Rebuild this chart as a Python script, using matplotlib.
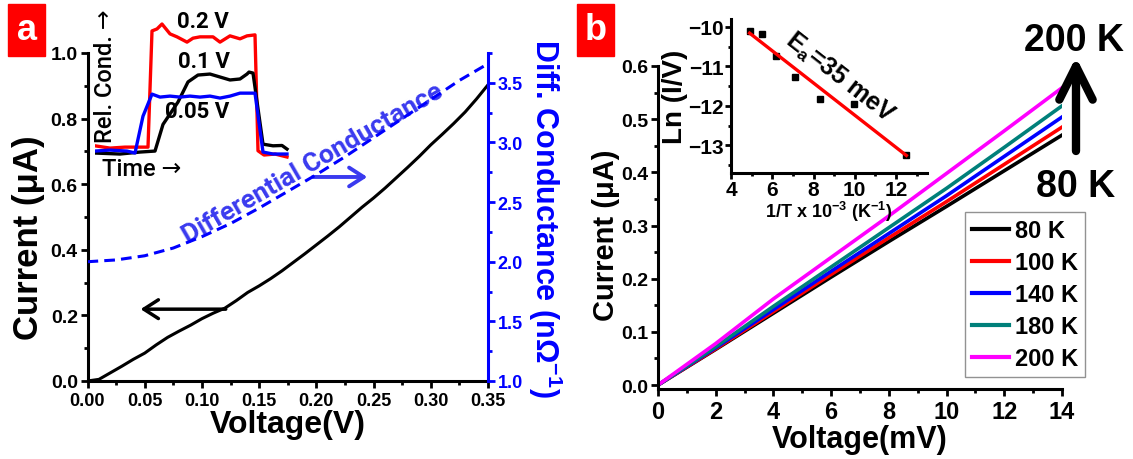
import numpy as np
import matplotlib
matplotlib.use("Agg")
import matplotlib.pyplot as plt
from matplotlib.patches import Rectangle, FancyArrowPatch
from matplotlib.ticker import MultipleLocator, FormatStrFormatter

plt.rcParams.update({
    "font.family": ["Liberation Sans", "DejaVu Sans"],
    "font.weight": "bold",
    "axes.labelweight": "bold",
    "mathtext.fontset": "custom",
    "mathtext.rm": "Liberation Sans:bold",
    "mathtext.it": "Liberation Sans:bold",
    "mathtext.bf": "Liberation Sans:bold",
    "mathtext.default": "rm",
    "axes.linewidth": 2.2,
})

# ---- panel a : I-V and differential conductance ----
volt_a = [0.00, 0.01, 0.02, 0.03, 0.04, 0.05, 0.06, 0.07, 0.08, 0.09, 0.10, 0.11,
          0.12, 0.13, 0.14, 0.15, 0.16, 0.17, 0.18, 0.19, 0.20, 0.21, 0.22, 0.23,
          0.24, 0.25, 0.26, 0.27, 0.28, 0.29, 0.30, 0.31, 0.32, 0.33, 0.34, 0.35]
current_a = [0.000, 0.005, 0.025, 0.045, 0.066, 0.085, 0.110, 0.133, 0.152, 0.170,
             0.190, 0.207, 0.222, 0.245, 0.270, 0.290, 0.312, 0.336, 0.362, 0.388,
             0.415, 0.442, 0.470, 0.500, 0.530, 0.558, 0.588, 0.620, 0.652, 0.685,
             0.720, 0.752, 0.785, 0.820, 0.860, 0.903]

volt_g = [0.0, 0.025, 0.05, 0.075, 0.10, 0.125, 0.15, 0.175, 0.20, 0.225, 0.25,
          0.275, 0.30, 0.325, 0.35]
diff_g = [2.00, 2.015, 2.05, 2.115, 2.21, 2.32, 2.45, 2.59, 2.73, 2.88, 3.04,
          3.20, 3.36, 3.52, 3.66]

# inset: relative conductance vs time (arbitrary units)
t_red = [0, 3, 6, 9.6, 10.6, 11.4, 12.4, 13.4, 15.0, 16.4, 18.4, 19.6, 21.0, 23.6,
         25.0, 27.0, 29.0, 30.4, 32.0, 32.6, 33.8, 36.0, 38.4]
rc_red = [0.715, 0.708, 0.711, 0.711, 0.711, 1.064, 1.070, 1.085, 1.055, 1.046,
          1.030, 1.042, 1.046, 1.046, 1.030, 1.049, 1.040, 1.049, 1.052, 0.700,
          0.687, 0.690, 0.681]
t_blk = [0, 5, 9, 12, 13.6, 16.6, 18.6, 20.6, 23.0, 25.0, 27.0, 29.0, 30.4,
         30.8, 31.6, 33.6, 35.6, 37.4, 38.4]
rc_blk = [0.693, 0.690, 0.696, 0.699, 0.780, 0.848, 0.909, 0.930, 0.933, 0.924,
          0.915, 0.918, 0.933, 0.939, 0.936, 0.720, 0.715, 0.716, 0.705]
t_blu = [0, 3, 6.4, 8.0, 9.6, 11.4, 13.0, 15.0, 17.0, 19.0, 21.0, 23.0, 25.0,
         27.0, 29.0, 32.0, 33.6, 35.6, 38.4]
rc_blu = [0.699, 0.702, 0.699, 0.693, 0.805, 0.872, 0.863, 0.866, 0.863, 0.866,
          0.863, 0.866, 0.860, 0.866, 0.875, 0.875, 0.696, 0.690, 0.690]

# ---- panel b : I-V at several temperatures ----
volt_b = [0, 2, 4, 6, 8, 10, 12, 14]
temps = ["80 K", "100 K", "140 K", "180 K", "200 K"]
temp_colors = ["black", "red", "blue", "#00807a", "magenta"]
current_b = {
    "80 K":  [0, 0.067, 0.135, 0.203, 0.270, 0.336, 0.403, 0.470],
    "100 K": [0, 0.068, 0.138, 0.208, 0.277, 0.345, 0.415, 0.485],
    "140 K": [0, 0.070, 0.142, 0.214, 0.285, 0.356, 0.430, 0.504],
    "180 K": [0, 0.072, 0.148, 0.222, 0.296, 0.370, 0.447, 0.525],
    "200 K": [0, 0.078, 0.162, 0.240, 0.318, 0.398, 0.478, 0.559],
}

# inset: Arrhenius plot
inv_t = [4.94, 5.5, 6.2, 7.08, 8.3, 9.96, 12.48]
ln_iv = [-10.10, -10.19, -10.74, -11.27, -11.83, -11.94, -13.25]

W, H = 1133, 460
fig = plt.figure(figsize=(W / 100, H / 100), dpi=100)


def fx(x):
    return x / W


def fy(y):
    return 1 - y / H


BLUE = "#0000ff"
LBLUE = "#3a3aef"
roboto = ["Roboto", "DejaVu Sans"]

# panel a
ax = fig.add_axes([fx(87.5), fy(382), (488 - 87.5) / W, (382 - 54) / H])
ax.plot(volt_a, current_a, color="k", lw=2.2)
ax.set_xlim(0, 0.35)
ax.set_ylim(0, 1.0)
ax.spines["top"].set_visible(False)
ax.spines["right"].set_visible(False)
ax.xaxis.set_major_locator(MultipleLocator(0.05))
ax.xaxis.set_minor_locator(MultipleLocator(0.025))
ax.xaxis.set_major_formatter(FormatStrFormatter("%.2f"))
ax.yaxis.set_major_locator(MultipleLocator(0.2))
ax.yaxis.set_minor_locator(MultipleLocator(0.1))
ax.yaxis.set_major_formatter(FormatStrFormatter("%.1f"))
ax.tick_params(which="major", direction="out", length=5, width=2)
ax.tick_params(which="minor", direction="out", length=3, width=2)
ax.tick_params(axis="x", labelsize=13, pad=3)
ax.tick_params(axis="y", labelsize=14, pad=2)
ax.set_xlabel("Voltage(V)", fontsize=23, labelpad=0)
ax.set_ylabel("Current (μA)", fontsize=25)
ax.yaxis.set_label_coords(-0.106, 0.44)

ax2 = ax.twinx()
ax2.plot(volt_g, diff_g, color=BLUE, lw=2.2, ls=(0, (3.5, 2)))
ax2.set_ylim(1.0, 3.75)
for s in ["top", "left", "bottom"]:
    ax2.spines[s].set_visible(False)
ax2.spines["right"].set_color(BLUE)
ax2.yaxis.set_major_locator(MultipleLocator(0.5))
ax2.yaxis.set_minor_locator(MultipleLocator(0.25))
ax2.yaxis.set_major_formatter(FormatStrFormatter("%.1f"))
ax2.tick_params(which="major", direction="out", length=5, width=2, color=BLUE,
                labelcolor=BLUE, labelsize=13, pad=2)
ax2.tick_params(which="minor", direction="out", length=3, width=2, color=BLUE)
ax2.set_ylabel("Diff. Conductance (nΩ$^{-1}$)", rotation=270, color=BLUE,
               fontsize=22, labelpad=30)

ax.text(0.197, 0.666, "Differential Conductance", rotation=30, color=LBLUE,
        fontsize=19, family=roboto, fontweight="bold",
        ha="center", va="center", rotation_mode="anchor")
ax.annotate("", xy=(0.0464, 0.219), xytext=(0.1208, 0.219),
            arrowprops=dict(arrowstyle="->,head_length=0.7,head_width=0.45",
                            lw=2.5, color="k", mutation_scale=15,
                            shrinkA=0, shrinkB=0))
ax.annotate("", xy=(0.2445, 0.622), xytext=(0.197, 0.622),
            arrowprops=dict(arrowstyle="->,head_length=0.7,head_width=0.45",
                            lw=2.8, color=LBLUE, mutation_scale=15,
                            shrinkA=0, shrinkB=0))

# inset of panel a
ins = fig.add_axes([fx(95), fy(168.2), (290 - 95) / W, (168.2 - 13.5) / H])
ins.axis("off")
ins.plot(t_red, rc_red, color="red", lw=2.4)
ins.plot(t_blk, rc_blk, color="k", lw=2.4)
ins.plot(t_blu, rc_blu, color=BLUE, lw=2.4)
ins.set_xlim(0, 39)
ins.set_ylim(0.65, 1.12)
ins.patch.set_alpha(0)

fig.text(fx(203), fy(22), "0.2 V", fontsize=16, family=roboto, fontweight="bold",
         ha="center", va="center")
fig.text(fx(204), fy(62), "0.1 V", fontsize=16, family=roboto, fontweight="bold",
         ha="center", va="center")
fig.text(fx(197), fy(112), "0.05 V", fontsize=16, family=roboto, fontweight="bold",
         ha="center", va="center")
fig.text(fx(142), fy(170), "Time →", fontsize=17, family=roboto,
         fontweight="medium", ha="center", va="center")
fig.text(fx(106), fy(76), "Rel. Cond. →", fontsize=17, family=roboto,
         fontweight="medium", ha="center", va="center", rotation=90)

# panel b
bx = fig.add_axes([fx(658), fy(390), (1062 - 658) / W, (390 - 67) / H])
for name, col in zip(temps, temp_colors):
    bx.plot(volt_b, current_b[name], color=col, lw=2.6, label=name)
bx.set_xlim(0, 14)
bx.set_ylim(-0.0075, 0.6)
bx.spines["top"].set_visible(False)
bx.spines["right"].set_visible(False)
bx.xaxis.set_major_locator(MultipleLocator(2))
bx.xaxis.set_minor_locator(MultipleLocator(1))
bx.yaxis.set_major_locator(MultipleLocator(0.1))
bx.yaxis.set_minor_locator(MultipleLocator(0.05))
bx.yaxis.set_major_formatter(FormatStrFormatter("%.1f"))
bx.tick_params(which="major", direction="out", length=5, width=2)
bx.tick_params(which="minor", direction="out", length=3, width=2)
bx.tick_params(axis="x", labelsize=17, pad=3)
bx.tick_params(axis="y", labelsize=14, pad=2)
bx.set_xlabel("Voltage(mV)", fontsize=22, labelpad=1)
bx.set_ylabel("Current (μA)", fontsize=21)
bx.yaxis.set_label_coords(-0.094, 0.48)
leg = bx.legend(loc="upper left", bbox_to_anchor=(fx(965), fy(213)),
                bbox_transform=fig.transFigure, fontsize=17, frameon=True,
                fancybox=False, edgecolor="#777777", handlelength=1.55,
                handletextpad=0.25, labelspacing=0.38, borderpad=0.3,
                borderaxespad=0)
leg.get_frame().set_linewidth(1.0)
for ln in leg.get_lines():
    ln.set_linewidth(3)

fig.text(fx(1074), fy(41), "200 K", fontsize=27, fontweight="bold",
         ha="center", va="center")
fig.text(fx(1076), fy(187), "80 K", fontsize=27, fontweight="bold",
         ha="center", va="center")
fig.add_artist(FancyArrowPatch(
    (fx(1076), fy(152)), (fx(1076), fy(58)), transform=fig.transFigure,
    arrowstyle="->,head_length=1.2,head_width=0.6", lw=6, color="k",
    mutation_scale=20, shrinkA=0, shrinkB=0))

# inset of panel b
ib = fig.add_axes([fx(731), fy(174), (927 - 731) / W, (174 - 20) / H])
ib.patch.set_alpha(0)
ib.plot(inv_t, ln_iv, "ks", ms=4.5)
slope, icpt = np.polyfit(inv_t, ln_iv, 1)
fit_x = np.array([4.9, 12.5])
ib.plot(fit_x, slope * fit_x + icpt, color="red", lw=2.4)
ib.set_xlim(4, 13.5)
ib.set_ylim(-13.7, -9.8)
ib.spines["top"].set_visible(False)
ib.spines["right"].set_visible(False)
ib.xaxis.set_major_locator(MultipleLocator(2))
ib.xaxis.set_minor_locator(MultipleLocator(1))
ib.yaxis.set_major_locator(MultipleLocator(1))
ib.yaxis.set_minor_locator(MultipleLocator(0.5))
ib.tick_params(which="major", direction="out", length=4, width=2, labelsize=15,
               pad=1)
ib.tick_params(which="minor", direction="out", length=2.5, width=2)
ib.set_xlabel("1/T x 10$^{-3}$ (K$^{-1}$)", fontsize=13, labelpad=0)
ib.set_ylabel("Ln (I/V)", fontsize=20, labelpad=0)
ib.text(9.28, -11.26, "E$_a$=35 meV", rotation=-38, fontsize=18,
        ha="center", va="center", rotation_mode="anchor")

# panel letters
for letter, x0 in [("a", 8), ("b", 577)]:
    fig.add_artist(Rectangle((fx(x0), fy(57)), 37 / W, 52 / H,
                             transform=fig.transFigure, color="red"))
    fig.text(fx(x0 + 18.5), fy(30), letter, color="white", fontsize=26,
             fontweight="bold", ha="center", va="center")

fig.savefig("out.png", dpi=100)
